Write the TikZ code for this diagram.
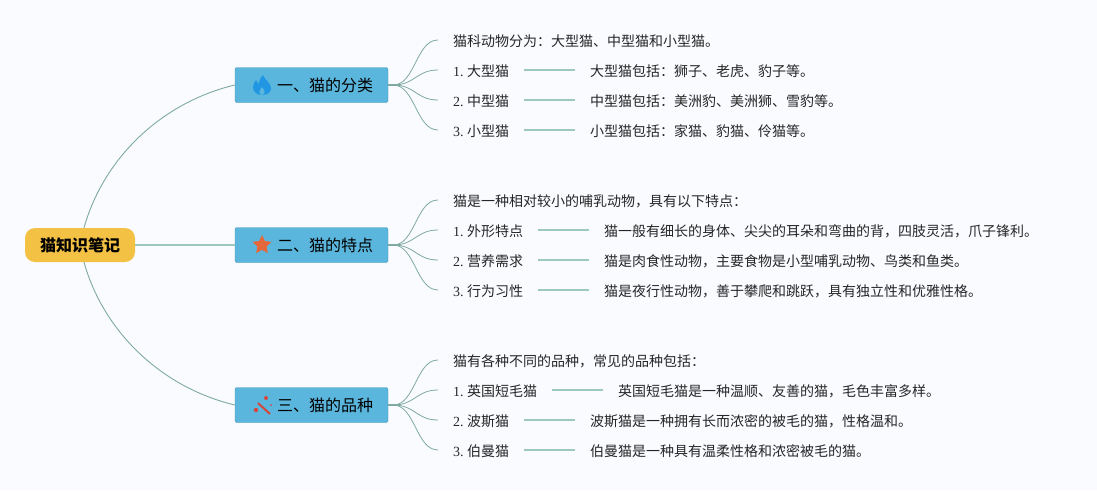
\documentclass[tikz,border=0pt]{standalone}
\usepackage{fontspec}
\setmainfont{Liberation Serif}
\newfontfamily\cjk{Noto Sans CJK SC}
\usetikzlibrary{calc,positioning,shapes.geometric}
\definecolor{pagebg}{HTML}{F9FBFF}
\definecolor{rootfill}{HTML}{F3C144}
\definecolor{boxfill}{HTML}{5AB6DC}
\definecolor{boxedge}{HTML}{4E9DAE}
\definecolor{limb}{HTML}{7FAAA0}
\definecolor{limblight}{HTML}{9CC8BE}
\definecolor{flameblue}{HTML}{2196E3}
\definecolor{starred}{HTML}{E5683A}
\definecolor{wandred}{HTML}{D5463C}
\tikzset{
    cat map/.style = {x=1pt, y=-1pt},
    root/.style    = {fill=rootfill, rounded corners=10pt, inner sep=0pt,
                      minimum width=110pt, minimum height=34pt,
                      font=\fontsize{16}{18}\selectfont\cjk\bfseries},
    branch/.style  = {draw=boxedge, fill=boxfill, rounded corners=2pt,
                      inner sep=0pt, minimum width=153pt, minimum height=35pt,
                      font=\fontsize{16}{18}\selectfont\cjk},
    leaf/.style    = {inner xsep=15pt, inner ysep=0pt, text height=14pt,
                      text depth=2pt, text=black!85,
                      font=\fontsize{14}{16}\selectfont\frenchspacing},
    bough/.style   = {draw=limb, line width=0.9pt},
    trunk/.style   = {draw=limblight, line width=1.6pt},
    stem/.style    = {draw=limb, line width=2pt},
    twig/.style    = {draw=limb, line width=0.8pt},
    rung/.style    = {draw=limblight, line width=1.2pt},
    node distance  = 50.5pt
}
\newcommand{\catbranch}[3]{%
    \node[branch] (#1) at (311.5,#2) {\hspace*{27pt}#3};
    \draw[stem] (#1.east) -- ++(9,0);
    \coordinate (#1-fan) at ($(#1.east)+(5,0)$);
}
\newcommand{\catintro}[3]{%
    \node[leaf,anchor=west] (#1-intro) at (438,#2) {\cjk #3};
    \draw[twig] (#1-fan) .. controls +(22,0) and +(-22,0) .. (#1-intro.west);
}
\newcommand{\catitem}[5]{%
    \node[leaf,anchor=west] (#1-#3) at (438,#2) {#3. {\cjk #4}};
    \node[leaf,right=of #1-#3] (#1-#3-note) {\cjk #5};
    \draw[twig] (#1-fan) .. controls +(22,0) and +(-22,0) .. (#1-#3.west);
    \draw[rung] (#1-#3.east) -- (#1-#3-note.west);
}

\begin{document}
\begin{tikzpicture}[cat map]
\useasboundingbox (0,0) rectangle (1097,490);
\fill[pagebg] (0,0) rectangle (1097,490);

\node[root] (notes) at (80,245) {猫知识笔记};

% First branch with its flame.
\catbranch{kinds}{85}{一、猫的分类}
\begin{scope}[shift={(262,85)}]
    \fill[flameblue] (0,10) .. controls (-6,10) and (-9,6) .. (-9,2)
        .. controls (-9,-1) and (-7,-3) .. (-6,-5)
        .. controls (-5,-3) and (-4,-2) .. (-3,-1)
        .. controls (-3,-5) and (-1,-8) .. (1,-10)
        .. controls (2,-6) and (9,-2) .. (9,3)
        .. controls (9,7) and (6,10) .. (0,10) -- cycle;
    \fill[boxfill] (0,10) .. controls (-3.5,9) and (-3.5,6) .. (0,2)
        .. controls (3.5,6) and (3.5,9) .. (0,10) -- cycle;
\end{scope}
\catintro{kinds}{40}{猫科动物分为：大型猫、中型猫和小型猫。}
\catitem{kinds}{70}{1}{大型猫}{大型猫包括：狮子、老虎、豹子等。}
\catitem{kinds}{100}{2}{中型猫}{中型猫包括：美洲豹、美洲狮、雪豹等。}
\catitem{kinds}{130}{3}{小型猫}{小型猫包括：家猫、豹猫、伶猫等。}

% Second branch with its star.
\catbranch{traits}{245}{二、猫的特点}
\node[star, star points=5, star point ratio=2.05, fill=starred, inner sep=0pt,
    minimum size=20pt] (traits-star) at (262,245) {};
\catintro{traits}{200}{猫是一种相对较小的哺乳动物，具有以下特点：}
\catitem{traits}{230}{1}{外形特点}{猫一般有细长的身体、尖尖的耳朵和弯曲的背，四肢灵活，爪子锋利。}
\catitem{traits}{260}{2}{营养需求}{猫是肉食性动物，主要食物是小型哺乳动物、鸟类和鱼类。}
\catitem{traits}{290}{3}{行为习性}{猫是夜行性动物，善于攀爬和跳跃，具有独立性和优雅性格。}

% Third branch with its wand.
\catbranch{breeds}{405}{三、猫的品种}
\draw[wandred, line width=2pt] (258,403) -- (270,414);
\fill[wandred] (266,398) circle (2pt) (256,410) circle (2.2pt) (271,405) circle (1pt);
\catintro{breeds}{360}{猫有各种不同的品种，常见的品种包括：}
\catitem{breeds}{390}{1}{英国短毛猫}{英国短毛猫是一种温顺、友善的猫，毛色丰富多样。}
\catitem{breeds}{420}{2}{波斯猫}{波斯猫是一种拥有长而浓密的被毛的猫，性格温和。}
\catitem{breeds}{450}{3}{伯曼猫}{伯曼猫是一种具有温柔性格和浓密被毛的猫。}

\draw[bough] ([xshift=4pt]notes.north) .. controls +(19,-68) and +(-75,18) .. (kinds.west);
\draw[trunk] (notes.east) -- (traits.west);
\draw[bough] ([xshift=4pt]notes.south) .. controls +(19,68) and +(-75,-18) .. (breeds.west);

\end{tikzpicture}
\end{document}
